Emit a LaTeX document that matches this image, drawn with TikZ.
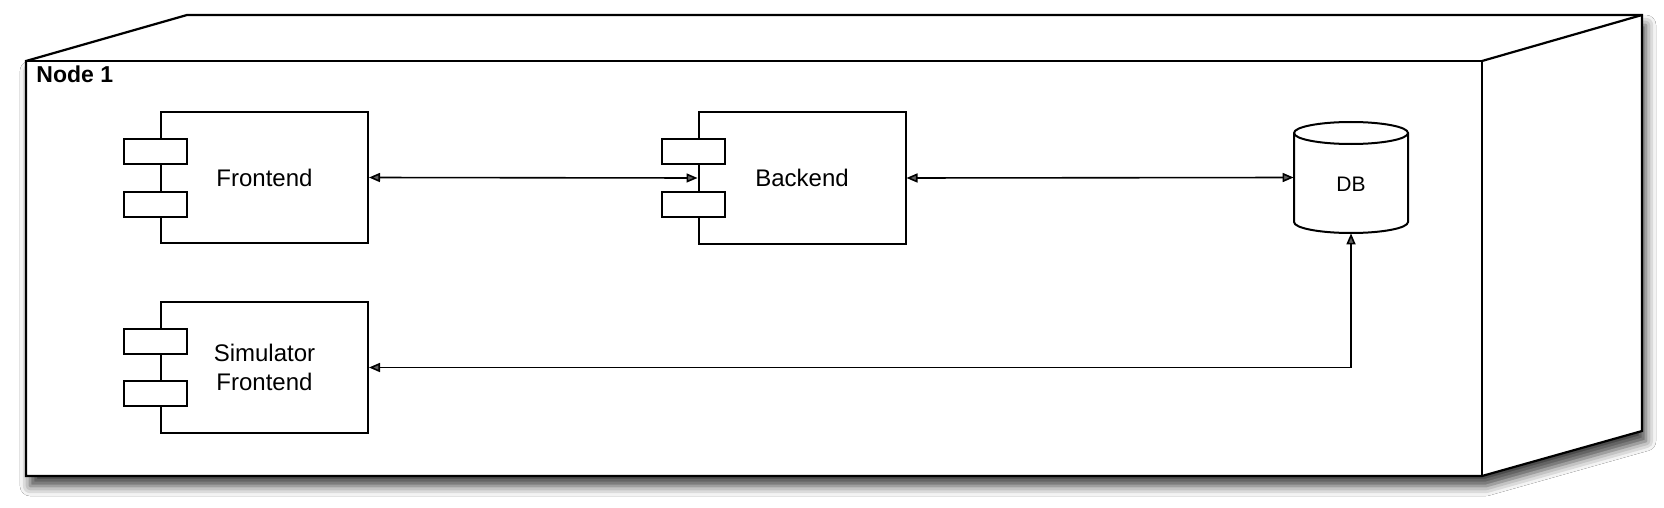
\documentclass[tikz,border=0pt]{standalone}
\usepackage{fontspec}
\setmainfont{Liberation Sans}
\usetikzlibrary{arrows.meta,shadows.blur}
\begin{document}
\begin{tikzpicture}[x=0.5pt,y=-0.5pt,
  comp/.style={draw, line width=1pt, fill=white, minimum width=103.5pt, minimum height=65.5pt, inner sep=0pt, align=center, font=\fontsize{12}{14.5}\selectfont},
  port/.style={draw, line width=1pt, fill=white, minimum width=31.5pt, minimum height=12.5pt, inner sep=0pt},
  tipx/.tip={Triangle[length=5.5pt,width=4.5pt]},
  link/.style={line width=0.8pt, tipx-tipx},
  outline/.style={line width=1.1pt, line join=miter}]
\useasboundingbox (0,0) rectangle (1664,508);
\fill[white] (0,0) rectangle (1664,508);
% 3D node box
\coordinate (fl) at (26,61);
\coordinate (bl) at (187,15);
\coordinate (br) at (1642,15);
\coordinate (bbr) at (1642,431);
\coordinate (fbr) at (1482,476);
\coordinate (fbl) at (26,476);
\coordinate (ftr) at (1482,61);
\draw[outline, fill=white, blur shadow={shadow xshift=2pt, shadow yshift=-5pt, shadow blur radius=5pt, shadow opacity=75}]
  (fl) -- (bl) -- (br) -- (bbr) -- (fbr) -- (fbl) -- cycle;
\draw[outline] (fl) -- (ftr) -- (fbr);
\draw[outline] (ftr) -- (br);
\node[anchor=base west, font=\fontsize{11.5}{13}\selectfont\bfseries, inner sep=0pt] (title) at (36,83) {Node 1};
% components
\node[comp] (fe) at (264.5,177.5) {Frontend};
\node[port] (fe1) at (155.5,151) {};
\node[port] (fe2) at (155.5,204.5) {};
\node[comp] (be) at (802,178) {Backend};
\node[port] (be1) at (693,151) {};
\node[port] (be2) at (693,204.5) {};
\node[comp] (sim) at (264.5,367.5) {Simulator\\Frontend};
\node[port] (sim1) at (155.5,341) {};
\node[port] (sim2) at (155.5,393.5) {};
% database
\node[minimum width=57pt, minimum height=55.5pt, inner sep=0pt] (db) at (1351,177.5) {};
\draw[line width=1pt, fill=white] (1294,133) -- (1294,222) arc (180:360:28.5pt and 5.5pt) -- (1408,133) arc (0:180:28.5pt and 5.5pt) -- cycle;
\draw[line width=1pt] (1294,133) arc (180:360:28.5pt and 5.5pt);
\node[font=\fontsize{10.5}{12}\selectfont] (dbl) at (1351,184.5) {DB};
% connectors
\draw[link] (fe.east) -- (be.west);
\draw[link] (be.east) -- (db.west);
\draw[link] (db.south) |- (sim.east);
\end{tikzpicture}
\end{document}
